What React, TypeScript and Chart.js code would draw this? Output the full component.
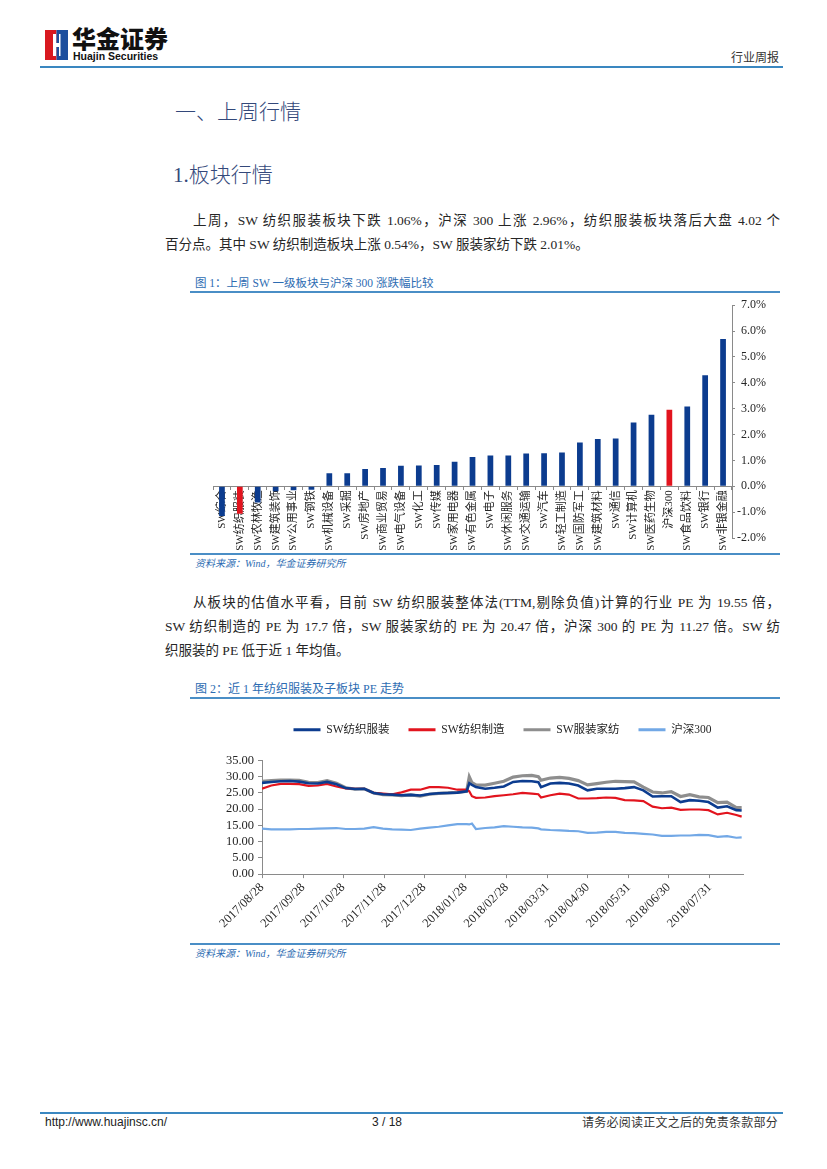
import React, { useEffect, useRef } from "react";
import { Chart, registerables } from "chart.js";

Chart.register(...registerables);

// ---------------- Figure 1: weekly change by SW sector ----------------
const barCategories = [
  "SW综合", "SW纺织服装", "SW农林牧渔", "SW建筑装饰", "SW公用事业", "SW钢铁",
  "SW机械设备", "SW采掘", "SW房地产", "SW商业贸易", "SW电气设备", "SW化工",
  "SW传媒", "SW家用电器", "SW有色金属", "SW电子", "SW休闲服务", "SW交通运输",
  "SW汽车", "SW轻工制造", "SW国防军工", "SW建筑材料", "SW通信", "SW计算机",
  "SW医药生物", "沪深300", "SW食品饮料", "SW银行", "SW非银金融",
];
const barValues = [
  -1.15, -1.06, -0.63, -0.19, -0.15, -0.13,
  0.5, 0.5, 0.67, 0.71, 0.79, 0.8,
  0.82, 0.95, 1.13, 1.19, 1.19, 1.27,
  1.28, 1.31, 1.69, 1.83, 1.85, 2.47,
  2.76, 2.96, 3.08, 4.29, 5.69,
];
const barHighlight = ["SW纺织服装", "沪深300"];
const barAxisMin = -2;
const barAxisMax = 7;

// ---------------- Figure 2: PE trend (days since 2017/08/28) ----------------
const peDays = [
  0, 7, 14, 21, 28, 35, 42, 49, 56, 63,
  70, 77, 84, 91, 98, 105, 112, 119, 126, 133,
  140, 147, 154, 156, 158, 161, 168, 175, 182, 189,
  196, 203, 208, 210, 217, 224, 231, 238, 245, 252,
  259, 266, 273, 280, 287, 294, 301, 308, 315, 322,
  329, 336, 343, 350, 357, 361,
];
const peTextileApparel = [
  28.1, 28.4, 28.6, 28.7, 28.5, 28.0, 27.9, 28.4, 27.7, 26.5,
  26.2, 26.3, 25.0, 24.6, 24.5, 24.3, 24.4, 24.2, 24.7, 24.9,
  25.0, 25.1, 25.5, 28.0, 27.5, 26.8, 26.3, 26.6, 27.0, 28.4,
  28.7, 28.6, 28.3, 26.8, 27.9, 28.1, 27.9, 27.3, 25.8, 26.3,
  26.3, 26.3, 26.5, 26.8, 25.8, 23.9, 24.0, 24.0, 22.2, 22.8,
  22.6, 22.2, 20.5, 20.9, 19.7, 19.6,
];
const peTextileMfg = [
  26.3, 27.3, 27.8, 27.8, 27.7, 27.2, 27.3, 27.8, 27.0, 26.4,
  26.3, 26.3, 25.0, 24.8, 24.6, 25.2, 26.0, 26.0, 26.8, 26.8,
  26.6, 26.0, 26.0, 25.5, 24.0, 23.5, 23.6, 24.0, 24.3, 24.6,
  25.0, 24.8, 24.6, 23.6, 24.3, 24.8, 24.5, 23.3, 23.3, 23.4,
  23.6, 23.5, 22.8, 22.7, 22.5, 20.8, 20.3, 20.5, 19.8, 19.9,
  19.9, 19.7, 18.4, 18.9, 18.2, 17.7,
];
const peApparelHome = [
  28.6, 28.8, 29.0, 29.0, 28.9, 28.3, 28.2, 28.8, 28.0, 26.6,
  26.2, 26.3, 25.0, 24.5, 24.4, 24.2, 24.4, 24.0, 24.6, 24.9,
  25.0, 25.2, 25.5, 30.0, 28.2, 27.5, 27.4, 28.0, 28.6, 29.9,
  30.3, 30.4, 30.0, 28.9, 29.6, 29.8, 29.5, 28.8, 27.5, 27.9,
  28.3, 28.6, 28.5, 28.4, 26.8, 25.3, 25.0, 25.4, 23.9, 24.5,
  23.8, 23.6, 22.0, 22.2, 20.5, 20.5,
];
const peHS300 = [
  14.0, 13.8, 13.8, 13.8, 13.9, 13.9, 14.0, 14.1, 14.2, 13.9,
  13.9, 14.0, 14.5, 14.0, 13.8, 13.7, 13.6, 14.0, 14.3, 14.6,
  15.0, 15.4, 15.4, 15.3, 15.6, 13.9, 14.2, 14.4, 14.8, 14.6,
  14.4, 14.3, 14.1, 13.8, 13.6, 13.5, 13.3, 13.2, 12.7, 12.8,
  13.0, 13.0, 12.7, 12.6, 12.4, 12.2, 11.8, 11.8, 11.9, 11.9,
  12.1, 12.0, 11.5, 11.7, 11.2, 11.3,
];
const peSeriesNames = ["SW纺织服装", "SW纺织制造", "SW服装家纺", "沪深300"];
const peTickDays = [0, 31, 61, 92, 122, 153, 184, 215, 245, 276, 306, 337];
const peTickLabels = [
  "2017/08/28", "2017/09/28", "2017/10/28", "2017/11/28", "2017/12/28", "2018/01/28",
  "2018/02/28", "2018/03/31", "2018/04/30", "2018/05/31", "2018/06/30", "2018/07/31",
];
const peAxisMax = 35;
const peAxisStep = 5;

// ---------------- styles ----------------
const NAVY = "#0c3c8f";
const RED = "#e2141e";
const GREY_LINE = "#8e8e8e";
const LIGHT_BLUE = "#72a8e6";
const AXIS = "#8a8a8a";
const TXT = "#262626";
const HEAD = "#33487a";
const FIG = "#2d6cb2";
const RULE = "#4a8ec6";
const MIXED = '"Liberation Serif", "Noto Sans CJK SC", serif';
const CJK = '"Noto Sans CJK SC", sans-serif';

function BarChart() {
  const ref = useRef<HTMLCanvasElement>(null);
  useEffect(() => {
    const chart = new Chart(ref.current as HTMLCanvasElement, {
      type: "bar",
      data: {
        labels: barCategories,
        datasets: [
          {
            data: barValues,
            backgroundColor: barCategories.map((c) => (barHighlight.includes(c) ? RED : NAVY)),
            barPercentage: 0.32,
            categoryPercentage: 1,
          },
        ],
      },
      options: {
        responsive: false,
        animation: false,
        events: [],
        layout: { padding: { left: 23, right: 14, top: 9, bottom: 14 } },
        plugins: { legend: { display: false }, tooltip: { enabled: false } },
        scales: {
          x: {
            position: { y: 0 } as any,
            grid: { display: true, drawOnChartArea: false, tickLength: 3, color: AXIS, offset: true },
            border: { display: true, color: AXIS },
            ticks: {
              autoSkip: false,
              minRotation: 90,
              maxRotation: 90,
              padding: 1,
              color: TXT,
              font: { family: MIXED, size: 11 },
            },
          },
          y: {
            position: "right",
            min: barAxisMin,
            max: barAxisMax,
            grid: { display: true, drawOnChartArea: false, tickLength: 3, color: AXIS },
            border: { display: true, color: AXIS },
            ticks: {
              stepSize: 1,
              autoSkip: false,
              crossAlign: "far",
              padding: 2,
              color: TXT,
              font: { family: MIXED, size: 12 },
              callback: (v: any) => Number(v).toFixed(1) + "%",
            },
            afterFit: (s: any) => {
              s.width = 34;
            },
          },
        },
      },
    });
    return () => chart.destroy();
  }, []);
  return (
    <canvas
      ref={ref}
      width={590}
      height={256}
      style={{ position: "absolute", left: 190, top: 296, width: 590, height: 256 }}
    />
  );
}

const legendGap = {
  id: "legendGap",
  beforeLayout(chart: any) {
    const lg = chart.legend;
    if (lg && !lg.__gapPatched) {
      const orig = lg.fit;
      lg.fit = function () {
        orig.call(this);
        this.height += 15;
      };
      lg.__gapPatched = true;
    }
  },
};

function LineChart() {
  const ref = useRef<HTMLCanvasElement>(null);
  useEffect(() => {
    const series = [peTextileApparel, peTextileMfg, peApparelHome, peHS300];
    const colors = [NAVY, RED, GREY_LINE, LIGHT_BLUE];
    const widths = [2.6, 2.2, 3.2, 2.2];
    const chart = new Chart(ref.current as HTMLCanvasElement, {
      type: "line",
      data: {
        datasets: series.map((vals, i) => ({
          label: peSeriesNames[i],
          data: peDays.map((d, j) => ({ x: d, y: vals[j] })),
          borderColor: colors[i],
          backgroundColor: colors[i],
          borderWidth: widths[i],
          pointRadius: 0,
          tension: 0,
          fill: false,
        })),
      },
      plugins: [legendGap],
      options: {
        responsive: false,
        animation: false,
        events: [],
        layout: { padding: { left: 22, right: 47, top: 0, bottom: 4 } },
        plugins: {
          tooltip: { enabled: false },
          legend: {
            position: "top",
            fullSize: false,
            labels: {
              boxWidth: 27,
              boxHeight: 3,
              padding: 19,
              color: TXT,
              font: { family: MIXED, size: 11.5 },
              generateLabels: (c: any) =>
                (Chart.defaults.plugins.legend.labels.generateLabels as any)(c).map((l: any) => ({
                  ...l,
                  lineWidth: 0,
                  fillStyle: l.strokeStyle,
                })),
            },
          },
        },
        scales: {
          x: {
            type: "linear",
            min: 0,
            max: 362,
            afterBuildTicks: (s: any) => {
              s.ticks = peTickDays.map((v) => ({ value: v }));
            },
            grid: { display: true, drawOnChartArea: false, tickLength: 4, color: AXIS },
            border: { display: true, color: AXIS },
            ticks: {
              autoSkip: false,
              minRotation: 45,
              maxRotation: 45,
              padding: 2,
              color: TXT,
              font: { family: MIXED, size: 12.5 },
              callback: (_v: any, i: number) => peTickLabels[i],
            },
          },
          y: {
            min: 0,
            max: peAxisMax,
            grid: { display: true, drawOnChartArea: false, tickLength: 4, color: AXIS },
            border: { display: true, color: AXIS },
            ticks: {
              stepSize: peAxisStep,
              autoSkip: false,
              padding: 4,
              color: TXT,
              font: { family: MIXED, size: 12.5 },
              callback: (v: any) => Number(v).toFixed(2),
            },
            afterFit: (s: any) => {
              s.width = 50;
            },
          },
        },
      },
    });
    return () => chart.destroy();
  }, []);
  return (
    <canvas
      ref={ref}
      width={600}
      height={232}
      style={{ position: "absolute", left: 190, top: 705, width: 600, height: 232 }}
    />
  );
}

const abs = (left: number, top: number, extra: React.CSSProperties = {}): React.CSSProperties => ({
  position: "absolute",
  left,
  top,
  whiteSpace: "nowrap",
  ...extra,
});

function TextLine({ left, top, width, text, justify }: { left: number; top: number; width: number; text: string; justify?: boolean }) {
  return (
    <div
      style={abs(left, top, {
        width,
        fontFamily: MIXED,
        fontSize: 13.5,
        lineHeight: "24px",
        color: TXT,
        textAlign: justify ? "justify" : "left",
        textAlignLast: justify ? "justify" : "auto",
      } as React.CSSProperties)}
    >
      {text}
    </div>
  );
}

export default function App() {
  return (
    <div
      style={{
        position: "absolute",
        left: 0,
        top: 0,
        width: 827,
        height: 1169,
        background: "#fff",
        overflow: "hidden",
        fontFamily: MIXED,
      }}
    >
      {/* header */}
      <svg style={abs(45, 30)} width={23} height={30} viewBox="0 0 23 30">
        <rect x={0} y={0} width={11.5} height={30} fill="#d81920" />
        <rect x={11.5} y={0} width={11.5} height={30} fill="#1c4e9d" />
        <path d="M8 4 L11 4 L11 13 L14 13 L14 4 L15.5 4 L15.5 26 L14 26 L14 17 L11 17 L11 26 L8 26 Z" fill="#fff" />
      </svg>
      <div style={abs(72, 26, { fontFamily: CJK, fontWeight: 900, fontSize: 24, lineHeight: "24px", color: "#111" })}>
        华金证券
      </div>
      <div
        style={abs(73, 50, {
          fontFamily: '"Liberation Sans", Arial, sans-serif',
          fontWeight: 700,
          fontSize: 10.5,
          lineHeight: "12px",
          color: "#111",
        })}
      >
        Huajin Securities
      </div>
      <div style={abs(731, 50, { fontFamily: CJK, fontSize: 12, lineHeight: "14px", color: "#333" })}>行业周报</div>
      <div style={abs(40, 66, { width: 743, height: 2, background: "#3a87c0" })} />

      {/* headings */}
      <div style={abs(175, 97, { fontFamily: CJK, fontSize: 21, lineHeight: "26px", color: HEAD, fontWeight: 300 })}>
        一、上周行情
      </div>
      <div style={abs(173, 162, { fontFamily: MIXED, fontSize: 21, lineHeight: "26px", color: HEAD, fontWeight: 300 })}>
        1.板块行情
      </div>

      {/* paragraph 1 */}
      <TextLine
        left={193}
        top={209}
        width={587}
        justify
        text="上周，SW 纺织服装板块下跌 1.06%，沪深 300 上涨 2.96%，纺织服装板块落后大盘 4.02 个"
      />
      <TextLine left={165} top={233} width={615} text="百分点。其中 SW 纺织制造板块上涨 0.54%，SW 服装家纺下跌 2.01%。" />

      {/* figure 1 */}
      <div style={abs(195, 275, { fontFamily: MIXED, fontSize: 11.5, lineHeight: "16px", color: FIG })}>
        图 1：上周 SW 一级板块与沪深 300 涨跌幅比较
      </div>
      <div style={abs(190, 291, { width: 590, height: 1.5, background: RULE })} />
      <BarChart />
      <div style={abs(190, 553, { width: 590, height: 1.5, background: RULE })} />
      <div style={abs(195, 557, { fontFamily: MIXED, fontSize: 10, lineHeight: "13px", color: FIG, fontStyle: "italic" })}>
        资料来源：Wind，华金证券研究所
      </div>

      {/* paragraph 2 */}
      <TextLine
        left={193}
        top={591}
        width={587}
        justify
        text="从板块的估值水平看，目前 SW 纺织服装整体法(TTM,剔除负值)计算的行业 PE 为 19.55 倍，"
      />
      <TextLine
        left={165}
        top={615}
        width={615}
        justify
        text="SW 纺织制造的 PE 为 17.7 倍，SW 服装家纺的 PE 为 20.47 倍，沪深 300 的 PE 为 11.27 倍。SW 纺"
      />
      <TextLine left={165} top={639} width={615} text="织服装的 PE 低于近 1 年均值。" />

      {/* figure 2 */}
      <div style={abs(195, 681, { fontFamily: MIXED, fontSize: 12, lineHeight: "16px", color: FIG })}>
        图 2：近 1 年纺织服装及子板块 PE 走势
      </div>
      <div style={abs(190, 697, { width: 590, height: 1.5, background: RULE })} />
      <LineChart />
      <div style={abs(190, 943, { width: 590, height: 1.5, background: RULE })} />
      <div style={abs(195, 947, { fontFamily: MIXED, fontSize: 10, lineHeight: "13px", color: FIG, fontStyle: "italic" })}>
        资料来源：Wind，华金证券研究所
      </div>

      {/* footer */}
      <div style={abs(40, 1112, { width: 743, height: 2, background: "#3a87c0" })} />
      <div style={abs(45, 1115, { fontFamily: '"Liberation Sans", Arial, sans-serif', fontSize: 12, lineHeight: "14px", color: "#222" })}>
        http://www.huajinsc.cn/
      </div>
      <div style={abs(372, 1115, { fontFamily: '"Liberation Sans", Arial, sans-serif', fontSize: 12, lineHeight: "14px", color: "#222" })}>
        3 / 18
      </div>
      <div style={abs(582, 1115, { fontFamily: CJK, fontSize: 12, lineHeight: "14px", color: "#333", letterSpacing: 0.25 })}>
        请务必阅读正文之后的免责条款部分
      </div>
    </div>
  );
}
